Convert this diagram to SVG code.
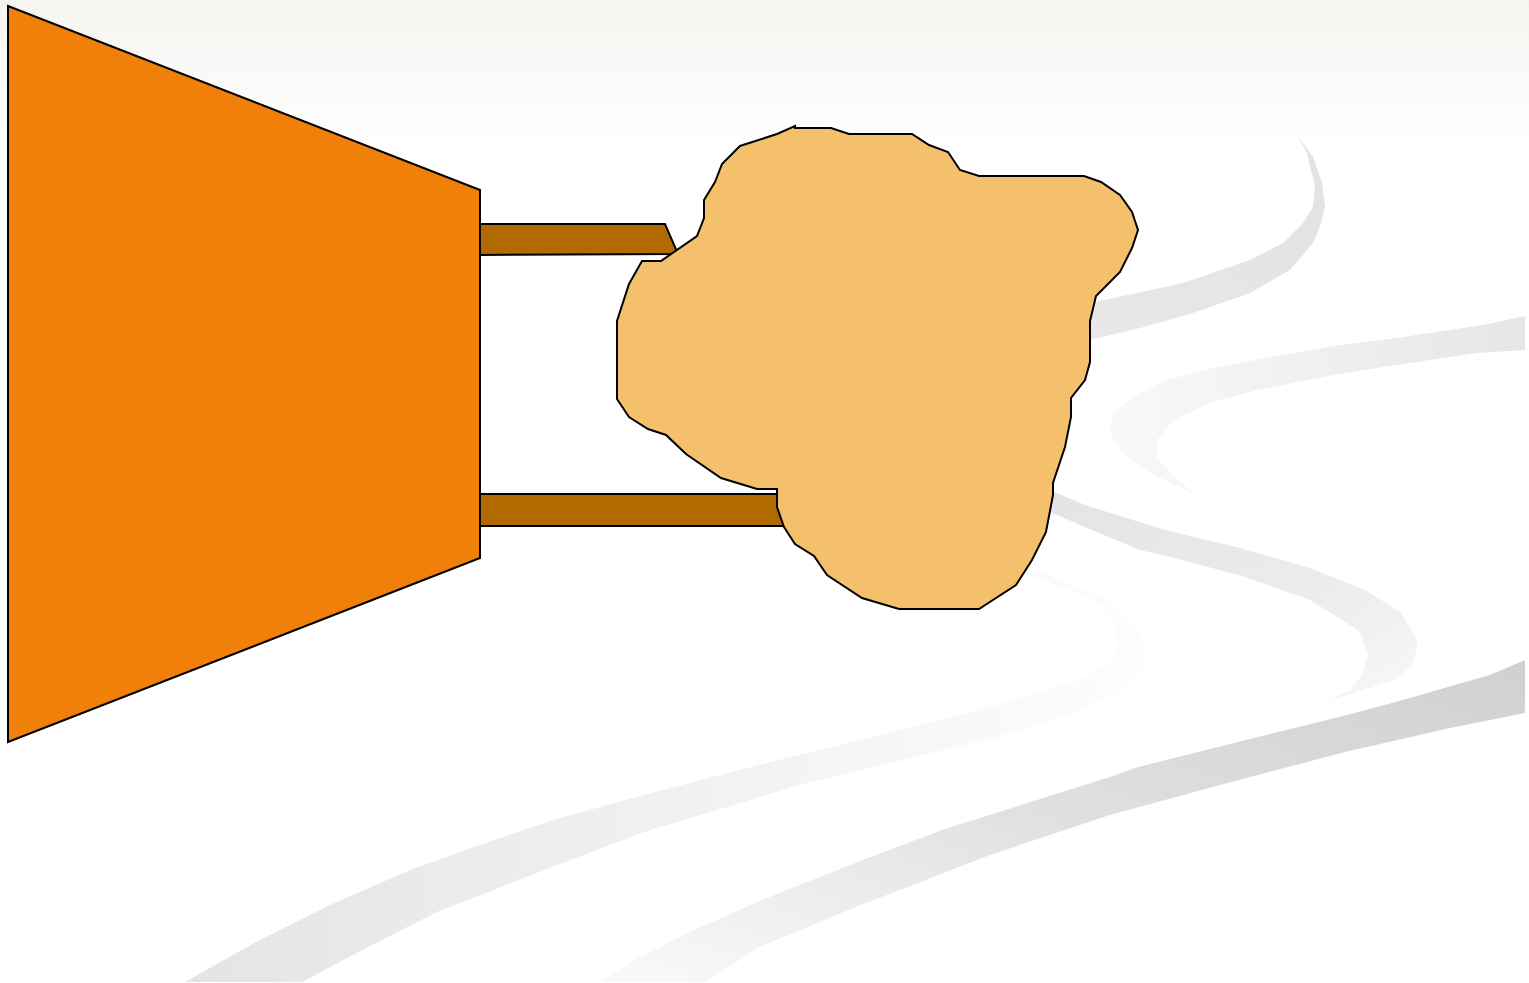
<svg xmlns="http://www.w3.org/2000/svg" width="1529" height="983" viewBox="0 0 1529 983">
<defs>
<linearGradient id="gTop" x1="0" y1="0" x2="0" y2="1">
<stop offset="0" stop-color="#f5f4f0"/>
<stop offset="1" stop-color="#fefefe"/>
</linearGradient>
<linearGradient id="gS1" x1="1" y1="0" x2="0" y2="1">
<stop offset="0" stop-color="#e2e2e2"/>
<stop offset="1" stop-color="#e8e8e8"/>
</linearGradient>
<linearGradient id="gS2" x1="1" y1="0" x2="0" y2="0">
<stop offset="0" stop-color="#e6e6e6"/>
<stop offset="1" stop-color="#f9f9f9"/>
</linearGradient>
<linearGradient id="gS3" x1="0" y1="0" x2="1" y2="1">
<stop offset="0" stop-color="#e4e4e4"/>
<stop offset="0.6" stop-color="#ececec"/>
<stop offset="1" stop-color="#f8f8f8"/>
</linearGradient>
<linearGradient id="gS4" x1="1" y1="0" x2="0" y2="1">
<stop offset="0" stop-color="#d0d0d0"/>
<stop offset="0.5" stop-color="#e0e0e0"/>
<stop offset="1" stop-color="#fafafa"/>
</linearGradient>
<linearGradient id="gS5" x1="0" y1="0" x2="1" y2="0">
<stop offset="0" stop-color="#e4e4e4"/>
<stop offset="1" stop-color="#fdfdfd"/>
</linearGradient>
<style>
.ol{stroke:#000;stroke-width:2;stroke-linejoin:miter}
.trap{fill:#f0800a}
.bar{fill:#b06a00}
.blob{fill:#f5c06c}
</style>
</defs>
<rect x="0" y="0" width="1529" height="983" fill="#ffffff"/>
<g id="background">
<polygon fill="url(#gS1)" points="1297,135 1307,153 1315,187 1313,207 1303,223 1283,243 1250,260 1183,283 1137,293 1085,304 1085,341 1140,328 1193,313 1250,293 1290,270 1313,243 1320,227 1325,207 1322,183 1313,157"/>
<polygon fill="url(#gS2)" points="1525,316 1483,325 1383,340 1333,346 1283,355 1217,367 1167,380 1133,397 1113,413 1110,433 1122,453 1150,473 1193,493 1170,473 1157,457 1157,440 1173,420 1210,403 1257,390 1317,378 1383,367 1477,353 1525,350"/>
<polygon fill="url(#gS3)" points="1050,490 1085,505 1165,530 1240,548 1310,568 1365,590 1400,612 1418,640 1414,662 1395,680 1341,697 1325,702 1350,690 1362,675 1368,655 1360,632 1345,622 1310,600 1245,577 1175,558 1140,550 1080,525 1050,512"/>
<polygon fill="url(#gS4)" points="1525,660 1490,675 1465,682 1410,698 1377,707 1335,718 1218,747 1138,767 1110,777 945,829 860,861 762,900 692,931 640,957 600,982 706,982 759,947 856,907 990,855 1110,815 1220,785 1345,752 1450,728 1525,713"/>
<polygon fill="url(#gS5)" points="1030,575 1070,590 1100,605 1115,625 1118,645 1110,662 1085,678 1040,693 960,715 860,740 770,762 644,795 560,818 494,840 410,870 330,905 256,942 185,982 302,982 370,946 437,912 560,864 644,832 800,785 870,768 997,737 1077,713 1112,694 1140,672 1146,655 1140,635 1125,614 1100,597 1060,580 1041,572"/>
<rect x="0" y="0" width="1529" height="135" fill="url(#gTop)"/>
</g>
<g id="bars">
<polygon class="bar ol" points="480,224 665,224 678,254 480,255"/>
<rect class="bar ol" x="480" y="494" width="310" height="32"/>
</g>
<g id="trapezoid">
<polygon class="trap ol" points="8,6 480,190 480,558 8,742"/>
</g>
<g id="blob">
<polygon class="blob ol" points="795,126 795,128 831,128 849,134 912,134 929,145 948,152 960,170 979,176 1084,176 1101,182 1120,195 1132,212 1138,230 1132,248 1120,272 1096,296 1090,321 1090,362 1085,380 1071,398 1071,417 1065,447 1053,483 1053,495 1046,532 1032,560 1016,585 979,609 899,609 862,598 827,575 814,556 795,544 784,527 777,507 777,489 757,489 721,478 686,454 666,435 648,429 629,417 617,399 617,321 629,284 642,261 661,261 697,236 704,218 704,200 715,182 722,164 740,146 777,134 795,126"/>
</g>
</svg>
